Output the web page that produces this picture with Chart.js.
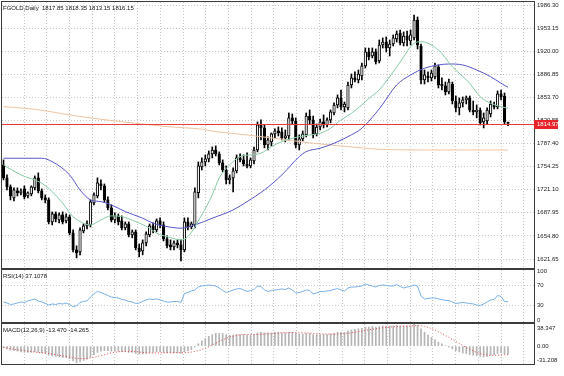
<!DOCTYPE html>
<html>
<head>
<meta charset="utf-8">
<script src="https://cdn.jsdelivr.net/npm/chart.js@4.4.1/dist/chart.umd.min.js"></script>
<style>
html, body { margin: 0; padding: 0; background: #fff; }
#wrap { position: relative; width: 564px; height: 376px; overflow: hidden; }
#wrap canvas { position: absolute; left: 0; }
</style>
</head>
<body>
<div id="wrap">
  <canvas id="cMain" width="564" height="269" style="top:0"></canvas>
  <canvas id="cRsi" width="564" height="54" style="top:269px"></canvas>
  <canvas id="cMacd" width="564" height="53" style="top:323px"></canvas>
</div>
<script>
// tick labels
const dateLabels = ['30 Aug 2022', '15 Sep 2022', '3 Oct 2022', '19 Oct 2022', '3 Nov 2022', '21 Nov 2022',
  '7 Dec 2022', '23 Dec 2022', '12 Jan 2023', '30 Jan 2023', '15 Feb 2023', '3 Mar 2023'];
const dateBars = [0, 12, 24, 36, 48, 60, 72, 84, 96, 108, 120, 132];
const priceTicks = [1621.65, 1654.80, 1687.95, 1721.10, 1754.25, 1787.40, 1820.55, 1853.70, 1886.85, 1920.00, 1953.15, 1986.30];
const rsiTicks = [0, 30, 70, 100];
const macdLabels = ['-31.208', '0.00', '38.347'];
const lastPrice = 1814.97;

// daily candles
const opens = [1756.7, 1738.1, 1725.1, 1709.4, 1719.4, 1716.5, 1722.3, 1712.2, 1715.1, 1723.7,
  1738.1, 1719.4, 1709.4, 1706.5, 1674.9, 1686.4, 1677.8, 1685.0, 1676.3, 1682.1,
  1659.1, 1634.7, 1631.9, 1662.0, 1669.2, 1670.6, 1702.2, 1712.2, 1729.4, 1726.6,
  1706.5, 1695.0, 1677.8, 1683.5, 1676.3, 1666.3, 1672.0, 1656.3, 1660.6, 1637.6,
  1633.3, 1644.8, 1656.3, 1669.2, 1663.4, 1676.3, 1670.6, 1650.5, 1641.9, 1639.0,
  1644.8, 1641.9, 1634.7, 1674.9, 1667.7, 1670.6, 1717.0, 1753.8, 1761.0, 1765.3,
  1772.5, 1778.2, 1772.5, 1759.6, 1749.5, 1735.2, 1738.1, 1748.1, 1766.8, 1763.9,
  1758.1, 1755.3, 1762.4, 1778.2, 1814.1, 1809.8, 1785.4, 1789.7, 1801.2, 1805.5,
  1804.1, 1795.5, 1798.3, 1824.2, 1819.8, 1785.4, 1794.0, 1799.8, 1827.0, 1821.3,
  1801.2, 1811.2, 1818.4, 1814.1, 1821.3, 1831.3, 1842.8, 1852.9, 1839.9, 1838.5,
  1871.5, 1881.6, 1878.7, 1884.4, 1898.8, 1918.9, 1913.1, 1918.9, 1905.9, 1928.9,
  1933.2, 1924.6, 1930.3, 1937.5, 1946.1, 1931.8, 1941.8, 1934.6, 1939.0, 1964.8,
  1927.5, 1878.7, 1884.4, 1881.6, 1883.0, 1897.3, 1872.9, 1870.1, 1861.5, 1872.9,
  1848.5, 1838.5, 1845.7, 1850.0, 1852.9, 1835.6, 1832.8, 1835.6, 1818.4, 1819.8,
  1829.9, 1842.8, 1839.9, 1858.6, 1855.7, 1817.85];
const highs = [1763.9, 1742.4, 1728.0, 1723.7, 1723.7, 1722.3, 1726.6, 1718.0, 1726.6, 1740.9,
  1745.2, 1722.3, 1713.7, 1709.4, 1689.3, 1689.3, 1687.8, 1689.3, 1686.4, 1685.0,
  1663.4, 1640.5, 1666.3, 1672.0, 1676.3, 1706.5, 1716.5, 1738.1, 1735.2, 1729.4,
  1710.8, 1699.3, 1687.8, 1686.4, 1683.5, 1674.9, 1674.9, 1663.4, 1663.4, 1643.3,
  1649.1, 1660.6, 1672.0, 1673.5, 1679.2, 1680.7, 1674.9, 1654.8, 1649.1, 1647.6,
  1649.1, 1649.1, 1680.7, 1680.7, 1674.9, 1723.7, 1761.0, 1766.8, 1771.1, 1776.8,
  1782.5, 1784.0, 1775.4, 1763.9, 1755.3, 1742.4, 1752.4, 1771.1, 1772.5, 1771.1,
  1773.9, 1766.8, 1782.5, 1818.4, 1821.3, 1814.1, 1796.9, 1802.6, 1808.4, 1811.2,
  1809.8, 1806.9, 1831.3, 1829.9, 1824.2, 1799.8, 1805.5, 1831.3, 1835.6, 1827.0,
  1815.5, 1822.7, 1828.5, 1824.2, 1835.6, 1845.7, 1857.2, 1864.3, 1847.1, 1875.8,
  1887.3, 1890.2, 1893.0, 1903.1, 1924.6, 1924.6, 1924.6, 1923.2, 1936.1, 1939.0,
  1940.4, 1936.1, 1943.3, 1949.0, 1950.4, 1947.6, 1949.0, 1950.4, 1972.0, 1969.1,
  1930.3, 1893.0, 1890.2, 1893.0, 1903.1, 1900.2, 1881.6, 1875.8, 1880.1, 1875.8,
  1855.7, 1852.9, 1854.3, 1855.7, 1855.7, 1848.5, 1842.8, 1838.5, 1831.3, 1838.5,
  1848.5, 1847.1, 1862.9, 1864.3, 1860.0, 1818.35];
const lows = [1735.2, 1720.8, 1706.5, 1705.0, 1712.2, 1713.7, 1707.9, 1709.4, 1712.2, 1720.8,
  1716.5, 1706.5, 1702.2, 1672.0, 1670.6, 1674.9, 1673.5, 1672.0, 1673.5, 1656.3,
  1631.9, 1623.3, 1627.6, 1659.1, 1664.9, 1667.7, 1699.3, 1709.4, 1720.8, 1703.6,
  1692.1, 1674.9, 1673.5, 1670.6, 1663.4, 1663.4, 1653.4, 1652.0, 1634.7, 1624.7,
  1627.6, 1640.5, 1653.4, 1659.1, 1660.6, 1666.3, 1647.6, 1637.6, 1634.7, 1634.7,
  1637.6, 1618.9, 1631.9, 1663.4, 1664.9, 1666.3, 1709.4, 1749.5, 1755.3, 1761.0,
  1766.8, 1769.6, 1756.7, 1746.7, 1729.4, 1729.4, 1718.0, 1745.2, 1761.0, 1755.3,
  1752.4, 1752.4, 1758.1, 1775.4, 1792.6, 1781.1, 1778.2, 1784.0, 1795.5, 1798.3,
  1792.6, 1789.7, 1792.6, 1815.5, 1781.1, 1778.2, 1791.1, 1796.9, 1815.5, 1795.5,
  1798.3, 1806.9, 1809.8, 1811.2, 1817.0, 1828.5, 1838.5, 1835.6, 1832.8, 1835.6,
  1867.2, 1875.8, 1874.4, 1878.7, 1895.9, 1907.4, 1910.3, 1901.6, 1903.1, 1924.6,
  1918.9, 1913.1, 1927.5, 1933.2, 1928.9, 1927.5, 1927.5, 1928.9, 1936.1, 1923.2,
  1872.9, 1872.9, 1875.8, 1877.2, 1880.1, 1867.2, 1864.3, 1857.2, 1858.6, 1844.2,
  1832.8, 1828.5, 1839.9, 1844.2, 1832.8, 1828.5, 1824.2, 1814.1, 1809.8, 1815.5,
  1825.6, 1837.1, 1837.1, 1850.0, 1815.5, 1813.15];
const closes = [1738.1, 1725.1, 1712.2, 1720.8, 1716.5, 1719.4, 1710.8, 1716.5, 1725.1, 1738.1,
  1719.4, 1709.4, 1706.5, 1674.9, 1686.4, 1679.2, 1685.0, 1674.9, 1682.1, 1659.1,
  1634.7, 1630.4, 1663.4, 1669.2, 1672.0, 1703.6, 1713.7, 1730.9, 1726.6, 1706.5,
  1695.0, 1677.8, 1683.5, 1674.9, 1666.3, 1672.0, 1656.3, 1660.6, 1637.6, 1631.9,
  1644.8, 1657.7, 1669.2, 1663.4, 1676.3, 1670.6, 1650.5, 1640.5, 1639.0, 1644.8,
  1641.9, 1634.7, 1674.9, 1667.7, 1672.0, 1718.0, 1755.3, 1761.0, 1765.3, 1772.5,
  1778.2, 1772.5, 1759.6, 1749.5, 1735.2, 1738.1, 1748.1, 1766.8, 1763.9, 1758.1,
  1755.3, 1763.9, 1778.2, 1814.1, 1809.8, 1785.4, 1792.6, 1801.2, 1805.5, 1802.6,
  1795.5, 1798.3, 1824.2, 1819.8, 1785.4, 1794.0, 1801.2, 1827.0, 1821.3, 1799.8,
  1811.2, 1818.4, 1814.1, 1821.3, 1832.8, 1842.8, 1852.9, 1839.9, 1844.2, 1871.5,
  1881.6, 1878.7, 1887.3, 1898.8, 1918.9, 1911.7, 1918.9, 1904.5, 1928.9, 1933.2,
  1924.6, 1930.3, 1939.0, 1944.7, 1931.8, 1941.8, 1936.1, 1943.3, 1964.8, 1928.9,
  1878.7, 1885.9, 1881.6, 1888.7, 1898.8, 1871.5, 1870.1, 1861.5, 1875.8, 1848.5,
  1838.5, 1845.7, 1850.0, 1852.9, 1835.6, 1832.8, 1835.6, 1817.0, 1824.2, 1835.6,
  1844.2, 1839.9, 1858.6, 1854.3, 1818.4, 1816.15];

// moving averages (bar index, price)
const maFastBars = [0, 5, 11, 14, 17, 20, 23, 25, 28, 31, 34, 38, 42, 44, 47, 51, 53, 57, 60, 62, 65, 68, 71, 74, 77,
  80, 83, 85, 88, 91, 94, 97, 100, 103, 105, 108, 114, 118, 120, 125, 129, 134, 137, 140, 143, 145];
const maFast = [1756.7, 1742.4, 1730.4, 1718.4, 1701.7, 1682.5, 1673.0, 1670.6, 1677.8, 1683.5, 1682.5, 1675.3,
  1665.9, 1658.7, 1653.8, 1649.1, 1653.8, 1685.0, 1713.7, 1738.0, 1756.7, 1768.6, 1771.1, 1773.5, 1783.0,
  1790.1, 1795.0, 1797.3, 1799.7, 1802.2, 1809.4, 1821.3, 1830.9, 1842.8, 1852.0, 1864.3, 1904.5, 1931.3,
  1933.6, 1921.7, 1897.8, 1873.9, 1854.7, 1845.2, 1840.4, 1838.1];
const maSlowBars = [0, 11, 14, 19, 22, 25, 28, 31, 35, 40, 43, 47, 51, 55, 60, 66, 70, 75, 80, 85, 87, 91, 95, 99,
  103, 107, 109, 113, 117, 121, 125, 128, 132, 136, 140, 143, 145];
const maSlow = [1766.3, 1766.3, 1761.4, 1742.4, 1720.8, 1706.5, 1704.0, 1699.3, 1689.7, 1680.2, 1673.0, 1668.2,
  1665.9, 1670.6, 1680.2, 1692.1, 1704.0, 1720.8, 1742.4, 1768.6, 1775.8, 1780.7, 1787.8, 1797.3, 1809.4,
  1831.0, 1844.0, 1871.5, 1885.8, 1895.5, 1900.2, 1901.6, 1900.2, 1893.0, 1883.4, 1873.9, 1868.2];
const maLongBars = [0, 9, 19, 28, 38, 47, 57, 61, 70, 80, 89, 99, 108, 120, 131, 145];
const maLong = [1840.4, 1836.6, 1828.5, 1822.3, 1816.5, 1811.7, 1808.0, 1804.5, 1799.7, 1793.6, 1787.8, 1783.0,
  1779.2, 1778.2, 1778.2, 1778.2];

const rsi = [36.7, 34.7, 31.6, 32.7, 34.7, 36.7, 35.7, 38.8, 40.8, 42.9,
  38.8, 36.7, 33.7, 30.6, 32.7, 31.6, 33.7, 32.7, 34.7, 31.6,
  27.6, 28.6, 35.7, 37.8, 38.8, 46.9, 53.1, 58.2, 56.1, 53.1,
  50.0, 46.9, 45.9, 44.9, 41.8, 40.8, 37.8, 36.7, 33.7, 34.7,
  37.8, 40.8, 42.9, 41.8, 42.9, 40.8, 38.8, 36.7, 36.7, 37.8,
  37.8, 35.7, 54.1, 56.1, 59.2, 61.2, 67.3, 69.4, 70.4, 71.4,
  70.4, 69.4, 65.3, 60.2, 56.1, 58.2, 61.2, 63.3, 64.3, 61.2,
  58.2, 60.2, 62.2, 69.4, 68.4, 61.2, 58.2, 60.2, 61.2, 62.2,
  63.3, 62.2, 65.3, 61.2, 55.1, 56.1, 58.2, 61.2, 60.2, 53.1,
  55.1, 58.2, 58.2, 59.2, 60.2, 62.2, 64.3, 61.2, 59.2, 65.3,
  67.3, 67.3, 68.4, 69.4, 73.5, 71.4, 69.4, 67.3, 70.4, 71.4,
  70.4, 69.4, 69.4, 72.4, 68.4, 65.3, 67.3, 68.4, 71.4, 69.4,
  49.0, 42.9, 43.9, 44.9, 44.9, 42.9, 41.8, 39.8, 39.8, 36.7,
  33.7, 34.7, 35.7, 34.7, 33.7, 32.7, 30.6, 29.6, 32.7, 36.7,
  40.8, 41.8, 50.0, 48.0, 37.8, 37.1078];

const macdMain = [-3, -5, -7, -8, -9, -10, -11, -11, -11, -10,
  -11, -12, -13, -16, -17, -18, -19, -20, -20, -22,
  -26, -29, -27, -25, -23, -19, -15, -11, -9, -8,
  -8, -9, -9, -9, -10, -10, -11, -11, -13, -14,
  -14, -13, -12, -11, -10, -10, -11, -12, -12, -12,
  -12, -13, -10, -8, -6, -2, 4, 9, 13, 17,
  20, 22, 22, 22, 20, 19, 19, 20, 20, 20,
  19, 19, 20, 23, 24, 23, 23, 23, 24, 24,
  23, 23, 24, 24, 22, 21, 21, 22, 22, 20,
  20, 20, 20, 20, 21, 22, 24, 24, 24, 26,
  28, 29, 30, 31, 33, 33, 34, 33, 34, 35,
  35, 35, 35, 36, 35, 35, 35, 35, 38.347, 36,
  30, 24, 19, 15, 11, 7, 4, 1, -2, -5,
  -8, -10, -12, -13, -15, -16, -17, -18, -19, -18,
  -16, -15, -13, -12, -13, -13.47];
const macdSignal = [-2.3, -3.5, -4.5, -5.5, -6.5, -7.2, -8, -9, -9.8, -10.5,
  -11, -11.5, -12, -13, -14, -15, -16, -17, -18, -19,
  -20.5, -21.5, -22, -22, -21.5, -20.5, -19.5, -18, -16.5, -15,
  -13.5, -12, -11, -10, -9.5, -9.3, -9.3, -9.5, -10, -10.5,
  -11, -11.5, -12, -12, -12, -11.8, -11.6, -11.5, -11.4, -11.4,
  -11.5, -11.6, -11.5, -11, -10.5, -9.5, -8, -6, -3.5, -1,
  2, 5, 8, 11, 13.5, 15.5, 17, 18.5, 19.5, 20,
  20.3, 20.3, 20.2, 20.3, 20.6, 21, 21.3, 21.7, 22, 22.5,
  23, 23.2, 23.4, 23.5, 23.4, 23.2, 23, 22.8, 22.6, 22.3,
  22, 21.6, 21.2, 20.9, 20.7, 20.7, 20.9, 21.2, 21.6, 22.2,
  23, 24, 25, 26, 27.2, 28.3, 29.3, 30.2, 31, 31.8,
  32.5, 33, 33.5, 34, 34.3, 34.5, 34.7, 34.9, 35.3, 35.5,
  35, 34, 32.5, 30.5, 28, 25, 22, 18.5, 15, 11.5,
  8, 4.5, 1, -2.5, -5.5, -8.5, -11, -13, -14.5, -15.5,
  -16, -16.2, -16, -15.6, -15, -14.265];

// ---- layout / style ----
const X_MIN = -0.43, X_MAX = 152.47;
const GRID_START = 5.9, GRID_STEP = 6.53;
const FONT = '"Liberation Sans", Arial, sans-serif';
const GRID_COLOR = '#c8c8c8';

Chart.defaults.animation = false;
Chart.defaults.font.family = FONT;
Chart.defaults.font.size = 6;
Chart.defaults.color = '#222';

const panel = {
  id: 'panel',
  afterDraw(chart, args, opts) {
    const { ctx, chartArea: a } = chart;
    ctx.save();
    ctx.strokeStyle = '#3c3c3c';
    ctx.lineWidth = 1;
    ctx.strokeRect(Math.round(a.left) - 0.5, Math.round(a.top) - 0.5,
      Math.round(a.right - a.left) + 1, Math.round(a.bottom - a.top) + 1);
    if (opts.text) {
      ctx.fillStyle = '#111';
      ctx.font = '6px ' + FONT;
      ctx.textBaseline = 'top';
      ctx.fillText(opts.text, a.left + 1, a.top + 3);
    }
    ctx.restore();
  }
};

const priceLine = {
  id: 'priceLine',
  afterDraw(chart) {
    const { ctx, chartArea: a, scales } = chart;
    const y = Math.round(scales.y.getPixelForValue(lastPrice)) + 0.5;
    ctx.save();
    ctx.strokeStyle = '#e83c3c';
    ctx.lineWidth = 1;
    ctx.beginPath();
    ctx.moveTo(a.left, y);
    ctx.lineTo(a.right, y);
    ctx.stroke();
    ctx.fillStyle = '#e8242a';
    ctx.fillRect(a.right, y - 4.5, 24, 9);
    ctx.fillStyle = '#fff';
    ctx.font = '6px ' + FONT;
    ctx.textBaseline = 'middle';
    ctx.fillText(lastPrice.toFixed(2), a.right + 3, y);
    ctx.restore();
  }
};

function xAxes(showLabels) {
  return {
    x: {
      type: 'linear', min: X_MIN, max: X_MAX, position: 'bottom', display: showLabels,
      offset: false, grid: { display: false, offset: false }, border: { display: false },
      afterBuildTicks: s => { s.ticks = dateBars.map(v => ({ value: v - 0.4 })); },
      afterFit: s => { s.height = showLabels ? 12 : 0; s.paddingLeft = 0; s.paddingRight = 0; },
      ticks: { autoSkip: false, maxRotation: 0, minRotation: 0, align: 'start', padding: 3,
        callback: (v, i) => dateLabels[i] }
    },
    xg: {
      type: 'linear', min: X_MIN, max: X_MAX, position: 'bottom', offset: false,
      grid: { color: GRID_COLOR, drawTicks: false, offset: false }, border: { display: false, dash: [1, 2] },
      ticks: { display: false },
      afterBuildTicks: s => {
        const t = [];
        for (let v = GRID_START; v < X_MAX; v += GRID_STEP) t.push({ value: v });
        s.ticks = t;
      },
      afterFit: s => { s.height = 0; s.paddingLeft = 0; s.paddingRight = 0; }
    }
  };
}

function yAxis(min, max, ticks, fmt, gridColor) {
  return {
    type: 'linear', position: 'right', min, max,
    afterBuildTicks: s => { s.ticks = ticks.map(v => ({ value: v })); },
    afterFit: s => { s.width = 30; s.paddingTop = 0; s.paddingBottom = 0; },
    grid: { color: gridColor, drawTicks: false }, border: { display: false, dash: [1, 2] },
    ticks: { padding: 3, autoSkip: false, callback: fmt }
  };
}

const common = {
  responsive: false, animation: false, events: [],
  plugins: { legend: { display: false }, tooltip: { enabled: false } }
};

const line = (data, color, extra) => Object.assign({
  type: 'line', data, borderColor: color, borderWidth: 1, pointRadius: 0,
  cubicInterpolationMode: 'monotone', xAxisID: 'x', yAxisID: 'y'
}, extra || {});
const pts = (xs, ys) => xs.map((x, i) => ({ x, y: ys[i] }));

// main price panel
new Chart(document.getElementById('cMain'), {
  type: 'bar',
  data: {
    datasets: [
      line(pts(maFastBars, maFast), '#86cba4'),
      line(pts(maSlowBars, maSlow), '#5656c8'),
      line(pts(maLongBars, maLong), '#eec3a0'),
      {
        data: opens.map((o, i) => ({ x: i, y: [o, closes[i]] })),
        backgroundColor: opens.map((o, i) => closes[i] >= o ? '#f4f4f4' : '#000'),
        borderColor: '#000', borderWidth: 1, borderSkipped: false,
        barThickness: 2.6, grouped: false, minBarLength: 1, xAxisID: 'x', yAxisID: 'y'
      },
      {
        data: lows.map((l, i) => ({ x: i, y: [l, highs[i]] })),
        backgroundColor: '#000', barThickness: 1, grouped: false, xAxisID: 'x', yAxisID: 'y'
      }
    ]
  },
  options: Object.assign({}, common, {
    layout: { padding: { left: 2, top: 2, right: 0, bottom: 1 } },
    plugins: Object.assign({}, common.plugins, {
      panel: { text: 'FGOLD,Daily  1817.85 1818.35 1813.15 1816.15' }
    }),
    scales: Object.assign(xAxes(false), {
      y: yAxis(1608.73, 1990.61, priceTicks, v => v.toFixed(2), GRID_COLOR)
    })
  }),
  plugins: [panel, priceLine]
});

// RSI panel
new Chart(document.getElementById('cRsi'), {
  type: 'line',
  data: {
    datasets: [line(rsi.map((v, i) => ({ x: i, y: v })), '#78b0e6', { cubicInterpolationMode: 'default', tension: 0 })]
  },
  options: Object.assign({}, common, {
    layout: { padding: { left: 2, top: 1, right: 0, bottom: 1 } },
    plugins: Object.assign({}, common.plugins, { panel: { text: 'RSI(14) 37.1078' } }),
    scales: Object.assign(xAxes(false), {
      y: yAxis(-4.1, 102, rsiTicks, v => String(v),
        c => (c.tick && (c.tick.value === 30 || c.tick.value === 70)) ? GRID_COLOR : 'rgba(0,0,0,0)')
    })
  }),
  plugins: [panel]
});

// MACD panel
new Chart(document.getElementById('cMacd'), {
  type: 'bar',
  data: {
    datasets: [
      line(macdSignal.map((v, i) => ({ x: i, y: v })), '#e04848',
        { borderDash: [1, 2], cubicInterpolationMode: 'default', tension: 0 }),
      {
        data: macdMain.map((v, i) => ({ x: i, y: v })),
        backgroundColor: '#b4b4b4', barThickness: 1, grouped: false, xAxisID: 'x', yAxisID: 'y'
      }
    ]
  },
  options: Object.assign({}, common, {
    layout: { padding: { left: 2, top: 1, right: 0, bottom: 0 } },
    plugins: Object.assign({}, common.plugins, { panel: { text: 'MACD(12,26,9) -13.470 -14.265' } }),
    scales: Object.assign(xAxes(true), {
      y: yAxis(-31.208, 38.347, [-24.25, 0, 31.39], (v, i) => macdLabels[i], 'rgba(0,0,0,0)')
    })
  }),
  plugins: [panel]
});
</script>
</body>
</html>
